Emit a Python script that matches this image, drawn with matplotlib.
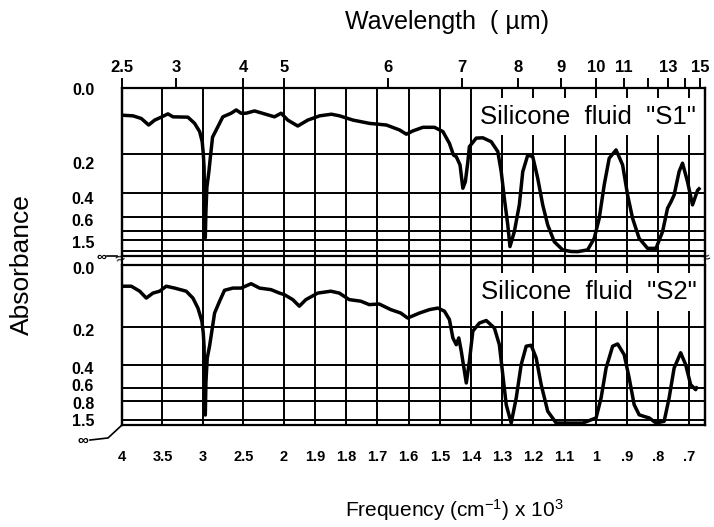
import numpy as np
import matplotlib
matplotlib.use("Agg")  # non-interactive backend
import matplotlib.pyplot as plt
import matplotlib.transforms as mtransforms

plt.rcParams["font.family"] = ["Liberation Sans", "DejaVu Sans"]
plt.rcParams["mathtext.fontset"] = "custom"
plt.rcParams["mathtext.rm"] = "Liberation Sans"
plt.rcParams["mathtext.default"] = "regular"

# --- spectra: wavenumber (cm-1) and absorbance ---
s1_nu = [4000, 3864, 3762, 3670, 3596, 3515, 3432, 3370, 3185, 3102, 3040, 3008,
         2995, 2985, 2978, 2970, 2962, 2950, 2925, 2905, 2880, 2814, 2753, 2650,
         2588, 2527, 2465, 2361, 2238, 2114, 2032, 1987, 1955, 1923, 1885, 1847,
         1821, 1778, 1725, 1671, 1629, 1607, 1586, 1554, 1517, 1490, 1469, 1456,
         1447, 1435, 1426, 1418, 1410, 1405, 1383, 1362, 1335, 1314, 1303, 1293,
         1282, 1275, 1261, 1245, 1234, 1218, 1202, 1186, 1170, 1154, 1133, 1106,
         1080, 1058, 1026, 1005, 989, 973, 957, 935, 914, 898, 882, 861, 834, 807,
         786, 770, 759, 749, 733, 722, 706, 690, 674, 669]
s1_abs = [0.083, 0.085, 0.093, 0.113, 0.098, 0.089, 0.079, 0.088, 0.089, 0.108, 0.133, 0.164,
          0.20, 0.27, 0.50, 0.95, 0.55, 0.37, 0.29, 0.21, 0.15, 0.118, 0.088, 0.077,
          0.067, 0.077, 0.077, 0.070, 0.079, 0.088, 0.077, 0.098, 0.116, 0.098, 0.085, 0.080,
          0.085, 0.098, 0.108, 0.113, 0.128, 0.141, 0.131, 0.120, 0.120, 0.133, 0.169, 0.208,
          0.216, 0.258, 0.376, 0.343, 0.242, 0.179, 0.153, 0.152, 0.164, 0.194, 0.292, 0.445,
          0.715, 1.30, 0.818, 0.499, 0.292, 0.208, 0.216, 0.326, 0.499, 0.715, 1.077, 1.45,
          1.65, 1.70, 1.45, 0.964, 0.62, 0.359, 0.224, 0.189, 0.258, 0.417, 0.620, 0.964, 1.38, 1.38,
          0.818, 0.527, 0.473, 0.417, 0.292, 0.249, 0.343, 0.499, 0.387, 0.379]

s2_nu = [4000, 3885, 3781, 3700, 3617, 3534, 3453, 3349, 3206, 3123, 3061, 3012,
         2995, 2985, 2978, 2970, 2962, 2946, 2917, 2889, 2855, 2793, 2732, 2629,
         2527, 2403, 2299, 2157, 2053, 1998, 1971, 1950, 1929, 1891, 1849, 1822,
         1790, 1753, 1726, 1694, 1657, 1625, 1603, 1565, 1533, 1506, 1485, 1469,
         1458, 1447, 1439, 1431, 1415, 1405, 1394, 1373, 1351, 1325, 1309, 1298,
         1287, 1271, 1255, 1239, 1223, 1207, 1191, 1175, 1154, 1127, 1042, 999,
         983, 967, 946, 930, 909, 893, 877, 861, 845, 829, 807, 781, 765, 749,
         728, 712, 696, 680, 677]
s2_abs = [0.068, 0.068, 0.084, 0.106, 0.090, 0.084, 0.068, 0.074, 0.084, 0.106, 0.138, 0.180,
          0.23, 0.30, 0.55, 1.25, 0.55, 0.363, 0.299, 0.220, 0.154, 0.116, 0.081, 0.074,
          0.074, 0.060, 0.074, 0.079, 0.090, 0.095, 0.111, 0.132, 0.111, 0.090, 0.084, 0.090,
          0.111, 0.116, 0.127, 0.125, 0.143, 0.154, 0.170, 0.154, 0.143, 0.138, 0.148, 0.175,
          0.256, 0.292, 0.256, 0.327, 0.557, 0.380, 0.220, 0.186, 0.178, 0.203, 0.292, 0.485,
          0.884, 2.4, 0.754, 0.398, 0.300, 0.295, 0.363, 0.572, 1.07, 2.37, 2.40, 1.39,
          0.754, 0.427, 0.300, 0.288, 0.345, 0.513, 0.884, 1.24, 1.32, 1.39, 2.37, 1.85, 0.754, 0.427,
          0.335, 0.398, 0.572, 0.627, 0.60]

freq_ticks = [4000, 3500, 3000, 2500, 2000, 1900, 1800, 1700, 1600, 1500,
              1400, 1300, 1200, 1100, 1000, 900, 800, 700]
freq_labels = ["4", "3.5", "3", "2.5", "2", "1.9", "1.8", "1.7", "1.6", "1.5",
               "1.4", "1.3", "1.2", "1.1", "1", ".9", ".8", ".7"]
wl_ticks = [2.5, 3, 4, 5, 6, 7, 8, 9, 10, 11, 12, 13, 14, 15]
wl_labels = ["2.5", "3", "4", "5", "6", "7", "8", "9", "10", "11", "", "13", "", "15"]

A_INF = 3.0  # stands in for "infinite" absorbance at the chart floor
top_ticks = [0, 0.2, 0.4, 0.6, 0.8, 1.0, 1.5, A_INF]
top_labels = ["0.0", "0.2", "0.4", "0.6", "", "", "1.5", ""]
bot_ticks = [0, 0.2, 0.4, 0.6, 0.8, 1.5, A_INF]
bot_labels = ["0.0", "0.2", "0.4", "0.6", "0.8", "1.5", ""]

# vertical nudge of each y label (px, + is down) as printed on the original
top_nudge = [1, 9, 5, 3, 0, 0, -9, 0]
bot_nudge = [3, 3, 3, -3, 2, 0, 0]

# chart-paper scales: two linear wavenumber ranges, transmittance-like absorbance
NU_KNOTS = [650, 2000, 4000]
U_KNOTS = [0, 422, 584]
A_KNOTS = [0, 0.2, 0.4, 0.6, 0.8, 1.0, 1.5, A_INF]
D_KNOTS = [0, 0.39, 0.625, 0.768, 0.85, 0.905, 0.97, 1.0]


def x_fwd(v):
    return np.interp(v, NU_KNOTS, U_KNOTS)


def x_inv(u):
    return np.interp(u, U_KNOTS, NU_KNOTS)


def y_fwd(a):
    return np.interp(a, A_KNOTS, D_KNOTS)


def y_inv(d):
    return np.interp(d, D_KNOTS, A_KNOTS)


W, H = 714, 527
fig = plt.figure(figsize=(W / 100, H / 100), dpi=100)

left, right = 122, 705
ax_bg = fig.add_axes([left / W, 1 - 425 / H, (right - left) / W, (425 - 88) / H], zorder=0)
ax1 = fig.add_axes([left / W, 1 - 256 / H, (right - left) / W, 168 / H], zorder=1)
ax2 = fig.add_axes([left / W, 1 - 425 / H, (right - left) / W, 160 / H], zorder=1)

# background: vertical rulings continuous through both panels
ax_bg.set_xscale("function", functions=(x_fwd, x_inv))
ax_bg.set_xlim(4000, 650)
ax_bg.set_xticks(freq_ticks)
ax_bg.set_xticklabels([])
ax_bg.set_yticks([])
ax_bg.tick_params(length=0)
ax_bg.grid(axis="x", color="black", linewidth=1.4)
for side in ["top", "bottom"]:
    ax_bg.spines[side].set_visible(False)
for side in ["left", "right"]:
    ax_bg.spines[side].set_linewidth(1.6)

for ax, nu, ab, yt, yl, nudge, name in [
        (ax1, s1_nu, s1_abs, top_ticks, top_labels, top_nudge, 'Silicone  fluid  "S1"'),
        (ax2, s2_nu, s2_abs, bot_ticks, bot_labels, bot_nudge, 'Silicone  fluid  "S2"')]:
    ax.set_facecolor("none")
    ax.set_xscale("function", functions=(x_fwd, x_inv))
    ax.set_yscale("function", functions=(y_fwd, y_inv))
    ax.set_xlim(4000, 650)
    ax.set_ylim(A_INF, 0)
    ax.set_yticks(yt)
    ax.set_yticklabels(yl, fontsize=11.5, fontweight="bold")
    ax.tick_params(axis="y", length=0, pad=20)
    for lab, dy in zip(ax.get_yticklabels(), nudge):
        shift = mtransforms.ScaledTranslation(0, -dy / 100, fig.dpi_scale_trans)
        lab.set_transform(lab.get_transform() + shift)
    ax.grid(axis="y", color="black", linewidth=1.4)
    for sp in ax.spines.values():
        sp.set_linewidth(1.6)
    ax.plot(nu, ab, color="black", linewidth=2.5, zorder=5, solid_joinstyle="round")
    ax.text(0.985, 0.83, name, transform=ax.transAxes, ha="right", va="center",
            fontsize=18.5, zorder=3,
            bbox=dict(facecolor="white", edgecolor="none", pad=5))

ax1.set_xticks([])
ax2.set_xticks(freq_ticks)
ax2.set_xticklabels(freq_labels, fontsize=10.5, fontweight="bold")
ax2.tick_params(axis="x", length=0, pad=18)

# wavelength scale along the top
ax_top = ax1.twiny()
ax_top.set_xscale("function", functions=(x_fwd, x_inv))
ax_top.set_xlim(4000, 650)
ax_top.set_xticks([1e4 / w for w in wl_ticks])
ax_top.set_xticklabels(wl_labels, fontsize=12, fontweight="bold")
ax_top.tick_params(axis="x", direction="out", length=7, width=1.4, pad=2)
for sp in ax_top.spines.values():
    sp.set_visible(False)

# infinity marks and break symbols
ax1.text(-0.027, -0.005, "\u221e", transform=ax1.transAxes, ha="right", va="center",
         fontsize=10, fontweight="bold")
ax1.plot([-0.026, -0.008], [0, 0], transform=ax1.transAxes, color="black",
         linewidth=1.2, clip_on=False)
ax2.text(-0.058, -0.1, "\u221e", transform=ax2.transAxes, ha="right", va="center",
         fontsize=11, fontweight="bold")
ax2.plot([-0.055, -0.024, 0], [-0.094, -0.081, 0], transform=ax2.transAxes,
         color="black", linewidth=1.2, clip_on=False)
fig.text(120 / W, 1 - 259 / H, "\u2248", ha="center", va="center", fontsize=12, rotation=20)
fig.text(707 / W, 1 - 258 / H, "\u2248", ha="center", va="center", fontsize=10, rotation=20)

fig.text(447 / W, 1 - 22 / H, "Wavelength  ( \u00b5m)", ha="center", va="center", fontsize=18)
fig.text(454 / W, 1 - 510 / H, "Frequency (cm$^{-1}$) x 10$^3$", ha="center",
         va="center", fontsize=15)
fig.text(22 / W, 1 - 265 / H, "Absorbance", ha="center", va="center", fontsize=19,
         rotation=90)

fig.savefig("out.png", dpi=100)
plt.close(fig)
